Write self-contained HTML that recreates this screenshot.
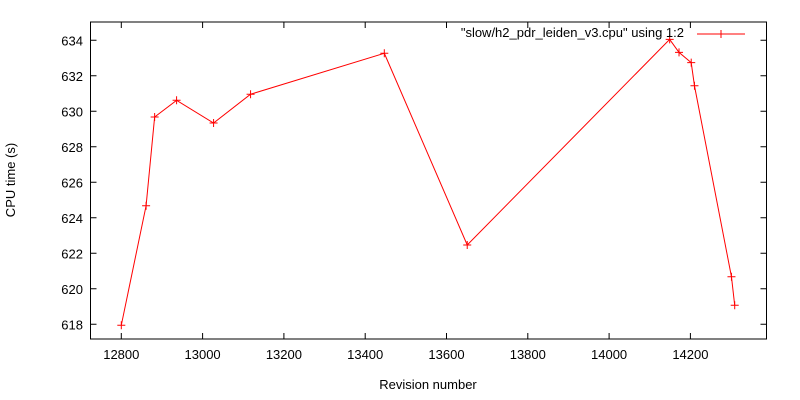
<!DOCTYPE html>
<html><head><meta charset="utf-8"><style>
body{margin:0;background:#fff}
svg{display:block;font-family:"Liberation Sans",sans-serif;font-size:13px}
</style></head><body>
<svg width="800" height="400">
<g id="axes"></g>
<g id="series"></g>
<rect x="90.5" y="22" width="676" height="317" fill="none" stroke="#000" stroke-width="1"/>
<text x="15" y="180" transform="rotate(-90 15 180)" text-anchor="middle">CPU time (s)</text>
<text x="428" y="389" text-anchor="middle">Revision number</text>
<g>
<text x="684" y="37" text-anchor="end">"slow/h2_pdr_leiden_v3.cpu" using 1:2</text>
<line x1="697" y1="34" x2="745" y2="34" stroke="#f00"/>
<path d="M717 34h8M721 30v8" stroke="#f00"/>
</g>
</svg>
<script>
const revisions=[12800,12861,12882,12936,13027,13118,13447,13651,14149,14172,14202,14210,14301,14309];
const cpuTimes=[617.95,624.68,629.68,630.62,629.34,630.96,633.27,622.47,634.05,633.32,632.74,631.44,620.68,619.07];
const xTicks=[12800,13000,13200,13400,13600,13800,14000,14200];
const yTicks=[618,620,622,624,626,628,630,632,634];
const NS="http://www.w3.org/2000/svg";
function X(v){return 121.3+(v-12800)*81.3/200;}
function Y(v){return 324.3-(v-618)*35.5/2;}
const axes=document.getElementById('axes'),ser=document.getElementById('series');
function mk(tag,attrs,parent){const e=document.createElementNS(NS,tag);for(const k in attrs)e.setAttribute(k,attrs[k]);parent.appendChild(e);return e;}
xTicks.forEach(t=>{const x=X(t);
 const a=mk('path',{d:`M${x} 339v-6M${x} 22v6`,stroke:'#000'},axes);
 
 
 const l=mk('text',{x:x,y:359,'text-anchor':'middle'},axes);l.textContent=t;
 
 
});
yTicks.forEach(t=>{const y=Y(t);
 const a=mk('path',{d:`M90.5 ${y}h6M766.5 ${y}h-6`,stroke:'#000'},axes);
 
 
 const l=mk('text',{x:83,y:y+5,'text-anchor':'end'},axes);l.textContent=t;
 
 
});
const pts=revisions.map((r,i)=>X(r)+','+Y(cpuTimes[i])).join(' ');
const pl=mk('polyline',{points:pts,fill:'none',stroke:'#f00','stroke-width':1},ser);


revisions.forEach((r,i)=>{const x=X(r),y=Y(cpuTimes[i]);
 const m=mk('path',{d:`M${x-4} ${y}h8M${x} ${y-4}v8`,stroke:'#f00'},ser);
 
 
});
</script>
</body></html>
